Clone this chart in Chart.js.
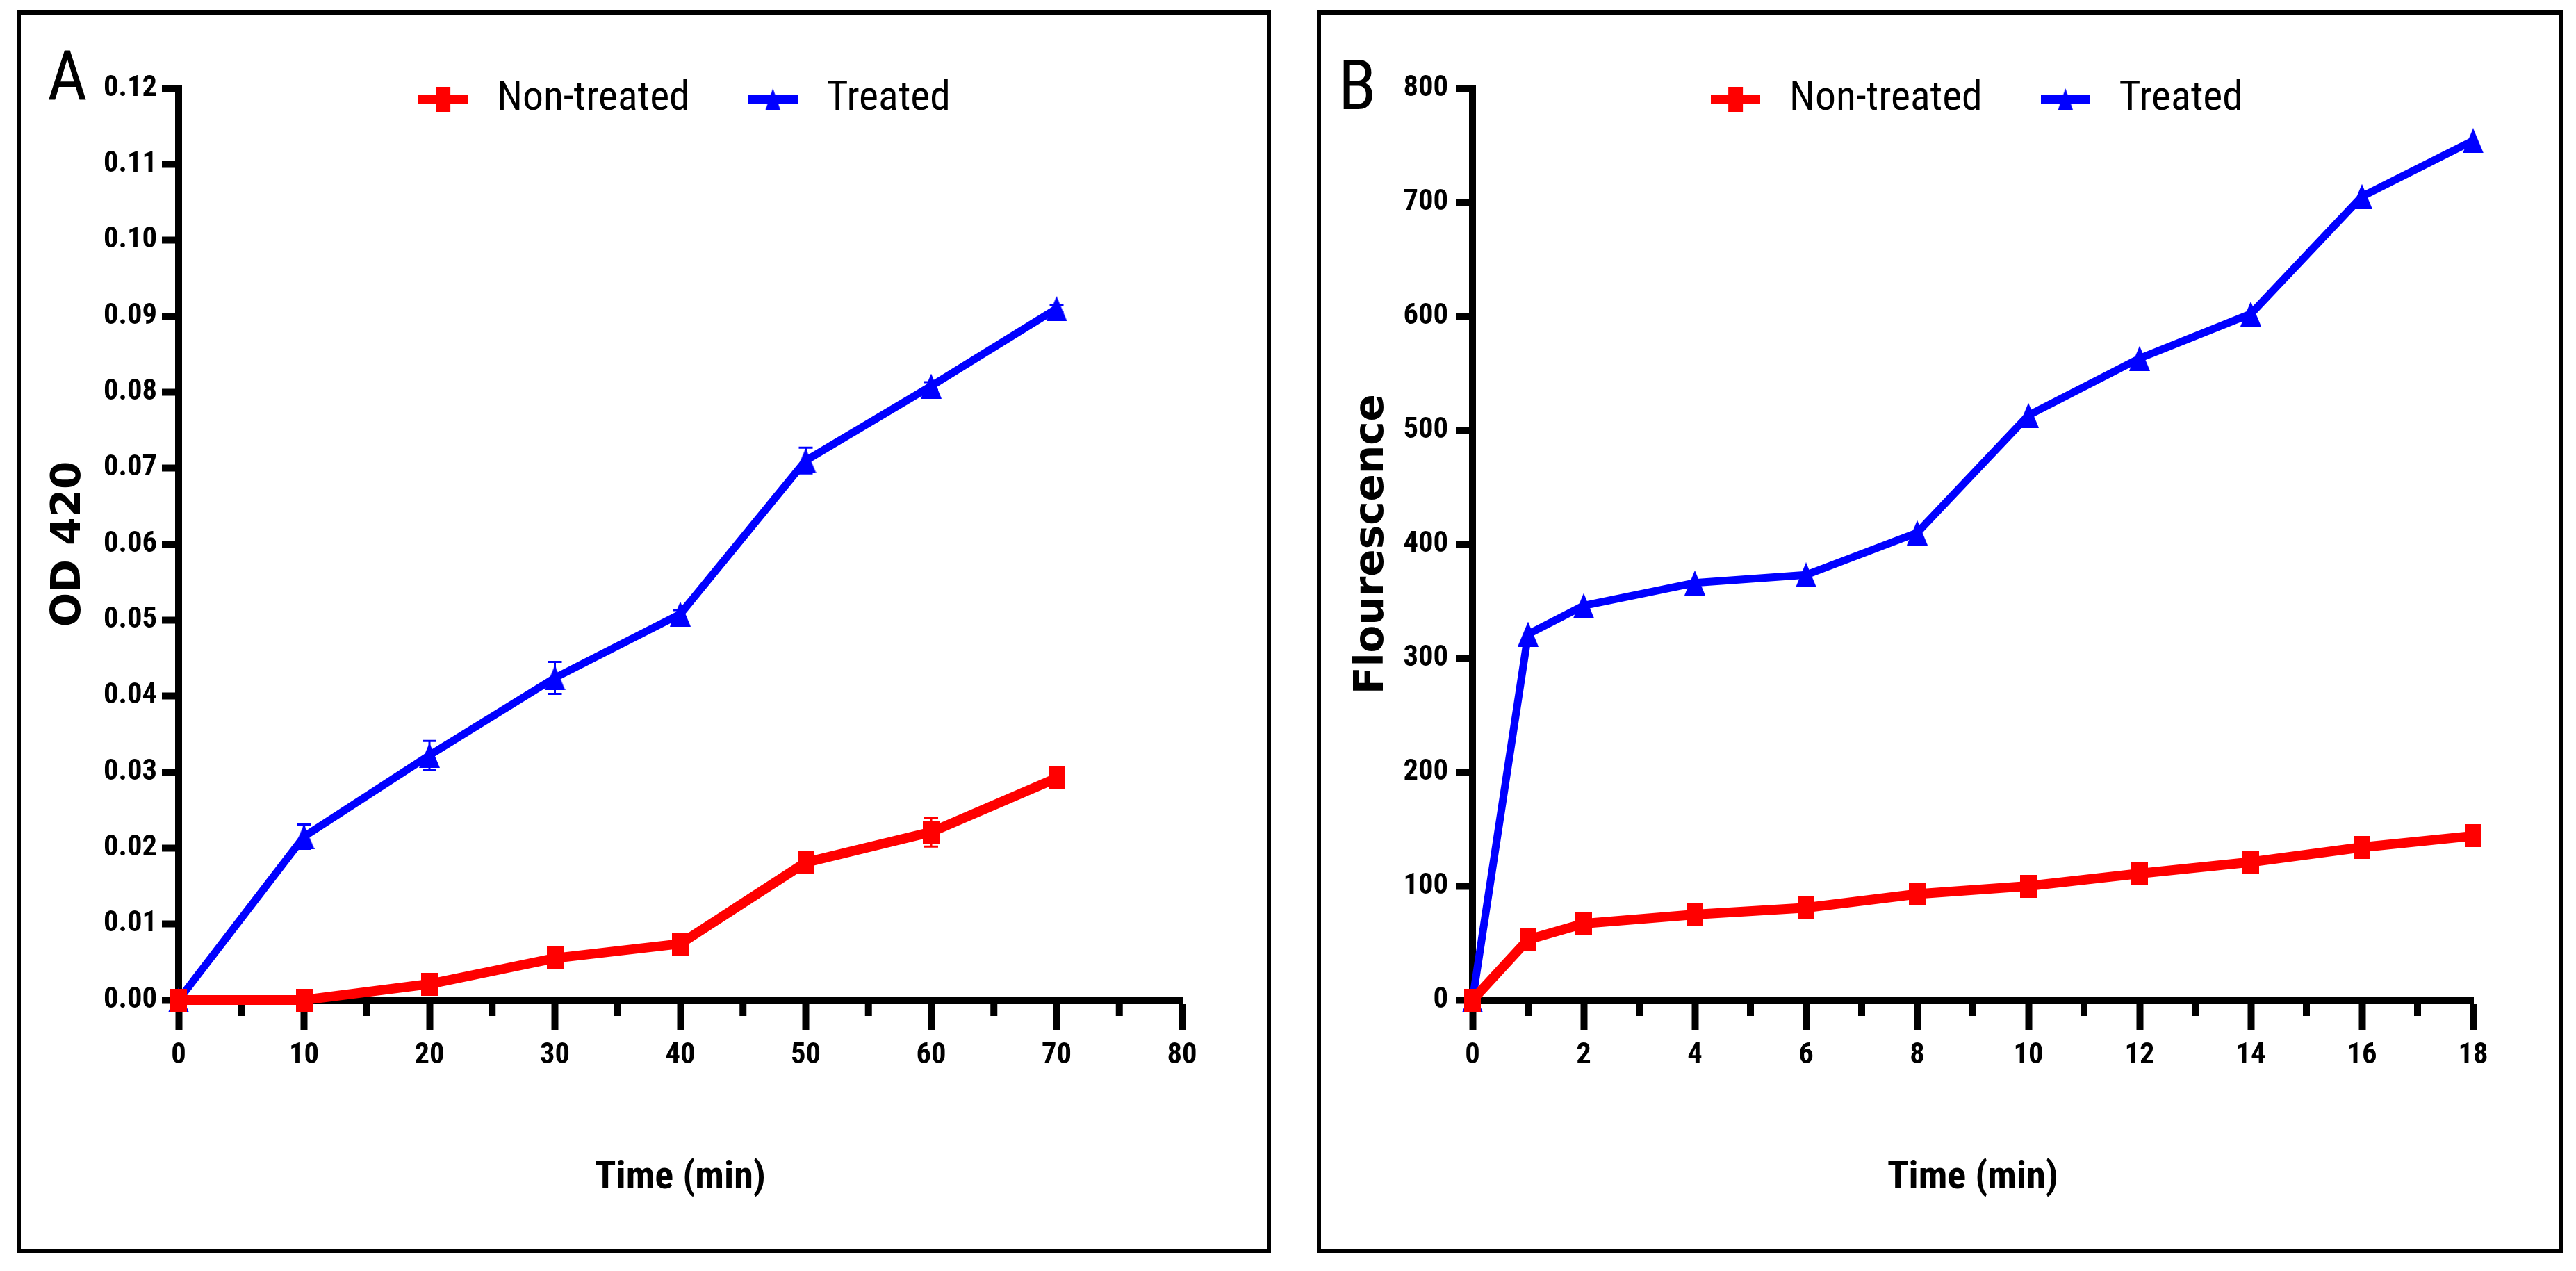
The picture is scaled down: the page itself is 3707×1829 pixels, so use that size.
<!DOCTYPE html>
<html>
<head>
<meta charset="utf-8">
<script src="https://cdn.jsdelivr.net/npm/chart.js@4.4.1/dist/chart.umd.min.js"></script>
<style>
  html, body { margin:0; padding:0; background:#fff; width:3707px; height:1829px; overflow:hidden; }
  .frame { position:absolute; border:6px solid #000; box-sizing:border-box; }
  .wrap { position:absolute; }
  .plabel { position:absolute; font-family:'Roboto Condensed','DejaVu Sans Condensed',sans-serif; font-size:100px; line-height:1; color:#000; }
</style>
</head>
<body>
<div class="frame" style="left:24px;top:15px;width:1805px;height:1788px"></div>
<div class="frame" style="left:1895px;top:15px;width:1793px;height:1788px"></div>
<div class="plabel" style="left:68px;top:60px">A</div>
<div class="plabel" style="left:1926px;top:73px">B</div>
<div class="wrap" style="left:30px;top:21px;width:1790px;height:1775px"><canvas id="chartA"></canvas></div>
<div class="wrap" style="left:1901px;top:21px;width:1781px;height:1775px"><canvas id="chartB"></canvas></div>
<script>
// ---------- data ----------
const seriesNames = ['Non-treated', 'Treated'];

// Panel A
const timeA = [0, 10, 20, 30, 40, 50, 60, 70];
const nonTreatedA = [0, 0, 0.0021, 0.0055, 0.0074, 0.0181, 0.0221, 0.0292];
const treatedA = [0, 0.0215, 0.0322, 0.0424, 0.0508, 0.0710, 0.0808, 0.0910];
const nonTreatedErrA = [0, 0.0003, 0.0005, 0.0007, 0.0007, 0.0008, 0.0019, 0.0010];
const treatedErrA = [0, 0.0016, 0.0019, 0.0021, 0.0005, 0.0017, 0.0005, 0.0005];
const xTicksA = [0, 10, 20, 30, 40, 50, 60, 70, 80];
const xMinorA = [5, 15, 25, 35, 45, 55, 65, 75];
const yTicksA = [0, 0.01, 0.02, 0.03, 0.04, 0.05, 0.06, 0.07, 0.08, 0.09, 0.10, 0.11, 0.12];
const xTitleA = 'Time (min)';
const yTitleA = 'OD 420';

// Panel B
const timeB = [0, 1, 2, 4, 6, 8, 10, 12, 14, 16, 18];
const nonTreatedB = [0, 53, 67, 75, 81, 93, 100, 111, 121, 134, 144];
const treatedB = [0, 321, 346, 366, 373, 410, 513, 563, 602, 705, 754];
const xTicksB = [0, 2, 4, 6, 8, 10, 12, 14, 16, 18];
const xMinorB = [1, 3, 5, 7, 9, 11, 13, 15, 17];
const yTicksB = [0, 100, 200, 300, 400, 500, 600, 700, 800];
const xTitleB = 'Time (min)';
const yTitleB = 'Flourescence';

// ---------- styles ----------
const RED = '#ff0000', BLUE = '#0000ff';
const NARROW = "'Roboto Condensed','DejaVu Sans Condensed',sans-serif";
const WIDE = "'DejaVu Sans','Liberation Sans',sans-serif";

const meas = document.createElement('canvas').getContext('2d');
function fitSize(text, weight, family, target) {
  meas.font = weight + ' 100px ' + family;
  return Math.round(1000 * target / meas.measureText(text).width) / 10;
}
const TICK_SIZE = fitSize('0.12', 'bold', NARROW, 77);
const XTITLE_SIZE = fitSize('Time (min)', 'bold', NARROW, 246);
const LEGEND_SIZE = fitSize('Non-treated', 'normal', NARROW, 278);
const LEGEND_BOX = Math.round(155 - LEGEND_SIZE);
const LEGEND_PAD = Math.round(475 - LEGEND_BOX - LEGEND_SIZE / 2 - 278);

function makeCanvas(w, h, draw) {
  const c = document.createElement('canvas');
  c.width = w; c.height = h;
  draw(c.getContext('2d'));
  return c;
}
const markerRect = makeCanvas(24, 33, g => { g.fillStyle = RED; g.fillRect(0, 0, 24, 33); });
const markerTri = makeCanvas(30, 36, g => { g.fillStyle = BLUE; g.beginPath(); g.moveTo(15, 0); g.lineTo(30, 36); g.lineTo(0, 36); g.closePath(); g.fill(); });
const legendRed = makeCanvas(71, 40, g => { g.fillStyle = RED; g.fillRect(0, 13, 71, 14); g.fillRect(25, 2, 21, 36); });
const legendBlue = makeCanvas(71, 40, g => { g.fillStyle = BLUE; g.fillRect(0, 13, 71, 14); g.beginPath(); g.moveTo(35.5, 4); g.lineTo(46.5, 36); g.lineTo(24.5, 36); g.closePath(); g.fill(); });
const legendIcons = [legendRed, legendBlue];

// ---------- plugins ----------
const errorBarPlugin = {
  id: 'errorBars',
  afterDatasetsDraw(chart) {
    const ctx = chart.ctx, xs = chart.scales.x, ys = chart.scales.y;
    chart.data.datasets.forEach((ds, i) => {
      if (!ds.errorBars || !chart.isDatasetVisible(i)) return;
      ctx.save();
      ctx.strokeStyle = ds.borderColor;
      ctx.lineWidth = 3;
      ds.data.forEach((p, j) => {
        const e = ds.errorBars[j];
        if (!e) return;
        const x = xs.getPixelForValue(p.x);
        const y1 = ys.getPixelForValue(p.y + e);
        const y2 = ys.getPixelForValue(p.y - e);
        ctx.beginPath();
        ctx.moveTo(x, y1); ctx.lineTo(x, y2);
        ctx.moveTo(x - 10, y1); ctx.lineTo(x + 10, y1);
        ctx.moveTo(x - 10, y2); ctx.lineTo(x + 10, y2);
        ctx.stroke();
      });
      ctx.restore();
    });
  }
};
const minorTickPlugin = {
  id: 'minorTicks',
  beforeDatasetsDraw(chart, args, opts) {
    const ctx = chart.ctx, xs = chart.scales.x, top = chart.chartArea.bottom;
    ctx.save();
    ctx.fillStyle = '#000';
    (opts.values || []).forEach(v => {
      const x = xs.getPixelForValue(v);
      ctx.fillRect(x - opts.width / 2, top, opts.width, opts.length);
    });
    ctx.restore();
  }
};
// legend takes (almost) no layout space; it is then placed over the top of the plot
const legendPlacePlugin = {
  id: 'legendPlace',
  afterLayout(chart, args, opts) {
    const L = chart.legend;
    if (!L) return;
    const top = opts.centerY - opts.padding - opts.fontSize / 2;
    L.top = top;
    L.height = 300;
    L.bottom = top + 300;
  }
};

// ---------- builder ----------
function build(id, p) {
  const mk = (xs, ys) => xs.map((t, i) => ({ x: t, y: ys[i] }));
  return new Chart(document.getElementById(id), {
    type: 'line',
    data: {
      datasets: [
        { label: seriesNames[0], data: mk(p.time, p.non), errorBars: p.nonErr, borderColor: RED, backgroundColor: RED,
          borderWidth: 14, pointStyle: markerRect, pointRadius: 16, pointHoverRadius: 16, clip: false, tension: 0 },
        { label: seriesNames[1], data: mk(p.time, p.tr), errorBars: p.trErr, borderColor: BLUE, backgroundColor: BLUE,
          borderWidth: 11, pointStyle: markerTri, pointRadius: 16, pointHoverRadius: 16, clip: false, tension: 0 }
      ]
    },
    options: {
      responsive: true,
      maintainAspectRatio: false,
      devicePixelRatio: 1,
      animation: false,
      events: [],
      layout: { padding: { top: p.padTop, right: p.padRight, bottom: 0, left: 0 } },
      scales: {
        x: {
          type: 'linear', min: p.xTicks[0], max: p.xTicks[p.xTicks.length - 1],
          afterBuildTicks: s => { s.ticks = p.xTicks.map(v => ({ value: v })); },
          afterFit: s => { s.height = p.xHeight; },
          ticks: { autoSkip: false, maxRotation: 0, color: '#000', padding: 12,
                   font: { family: NARROW, size: TICK_SIZE, weight: 'bold' } },
          grid: { drawOnChartArea: false, drawTicks: true, tickLength: 43, tickWidth: 10, tickColor: '#000' },
          border: { display: true, color: '#000', width: 11 },
          title: { display: true, text: p.xTitle, color: '#000', padding: { top: 0, bottom: 66 },
                   font: { family: NARROW, size: XTITLE_SIZE, weight: 'bold' } }
        },
        y: {
          type: 'linear', min: p.yTicks[0], max: p.yTicks[p.yTicks.length - 1],
          afterBuildTicks: s => { s.ticks = p.yTicks.map(v => ({ value: v })); },
          afterFit: s => { s.width = p.yWidth; },
          ticks: { autoSkip: false, color: '#000', padding: p.yPad, callback: p.yFmt,
                   font: { family: NARROW, size: TICK_SIZE, weight: 'bold' } },
          grid: { drawOnChartArea: false, drawTicks: true, tickLength: 24, tickWidth: 10, tickColor: '#000' },
          border: { display: true, color: '#000', width: 10 },
          title: { display: true, text: p.yTitle, color: '#000', padding: { top: p.yTitlePad, bottom: 0 },
                   font: { family: WIDE, size: 58, weight: 'bold' } }
        }
      },
      plugins: {
        tooltip: { enabled: false },
        legend: {
          position: 'top', align: 'center', fullSize: false, maxHeight: 1,
          labels: {
            usePointStyle: true, pointStyleWidth: LEGEND_BOX, padding: LEGEND_PAD, color: '#000',
            font: { family: NARROW, size: LEGEND_SIZE },
            generateLabels: chart => chart.data.datasets.map((ds, i) => ({
              text: ds.label, pointStyle: legendIcons[i], fillStyle: ds.borderColor, strokeStyle: ds.borderColor,
              lineWidth: 0, hidden: false, datasetIndex: i, fontColor: '#000'
            }))
          }
        },
        minorTicks: { values: p.minor, width: 10, length: 23 },
        legendPlace: { centerY: 122, padding: LEGEND_PAD, fontSize: LEGEND_SIZE }
      }
    },
    plugins: [errorBarPlugin, minorTickPlugin, legendPlacePlugin]
  });
}

build('chartA', {
  time: timeA, non: nonTreatedA, tr: treatedA, nonErr: nonTreatedErrA, trErr: treatedErrA,
  xTicks: xTicksA, minor: xMinorA, yTicks: yTicksA, xTitle: xTitleA, yTitle: yTitleA,
  yFmt: v => Number(v).toFixed(2), padTop: 105, padRight: 119, xHeight: 357, yWidth: 227, yPad: 7, yTitlePad: 35
});
build('chartB', {
  time: timeB, non: nonTreatedB, tr: treatedB, nonErr: null, trErr: null,
  xTicks: xTicksB, minor: xMinorB, yTicks: yTicksB, xTitle: xTitleB, yTitle: yTitleB,
  yFmt: v => String(v), padTop: 105, padRight: 123, xHeight: 357, yWidth: 218, yPad: 11, yTitlePad: 39
});
</script>
</body>
</html>
